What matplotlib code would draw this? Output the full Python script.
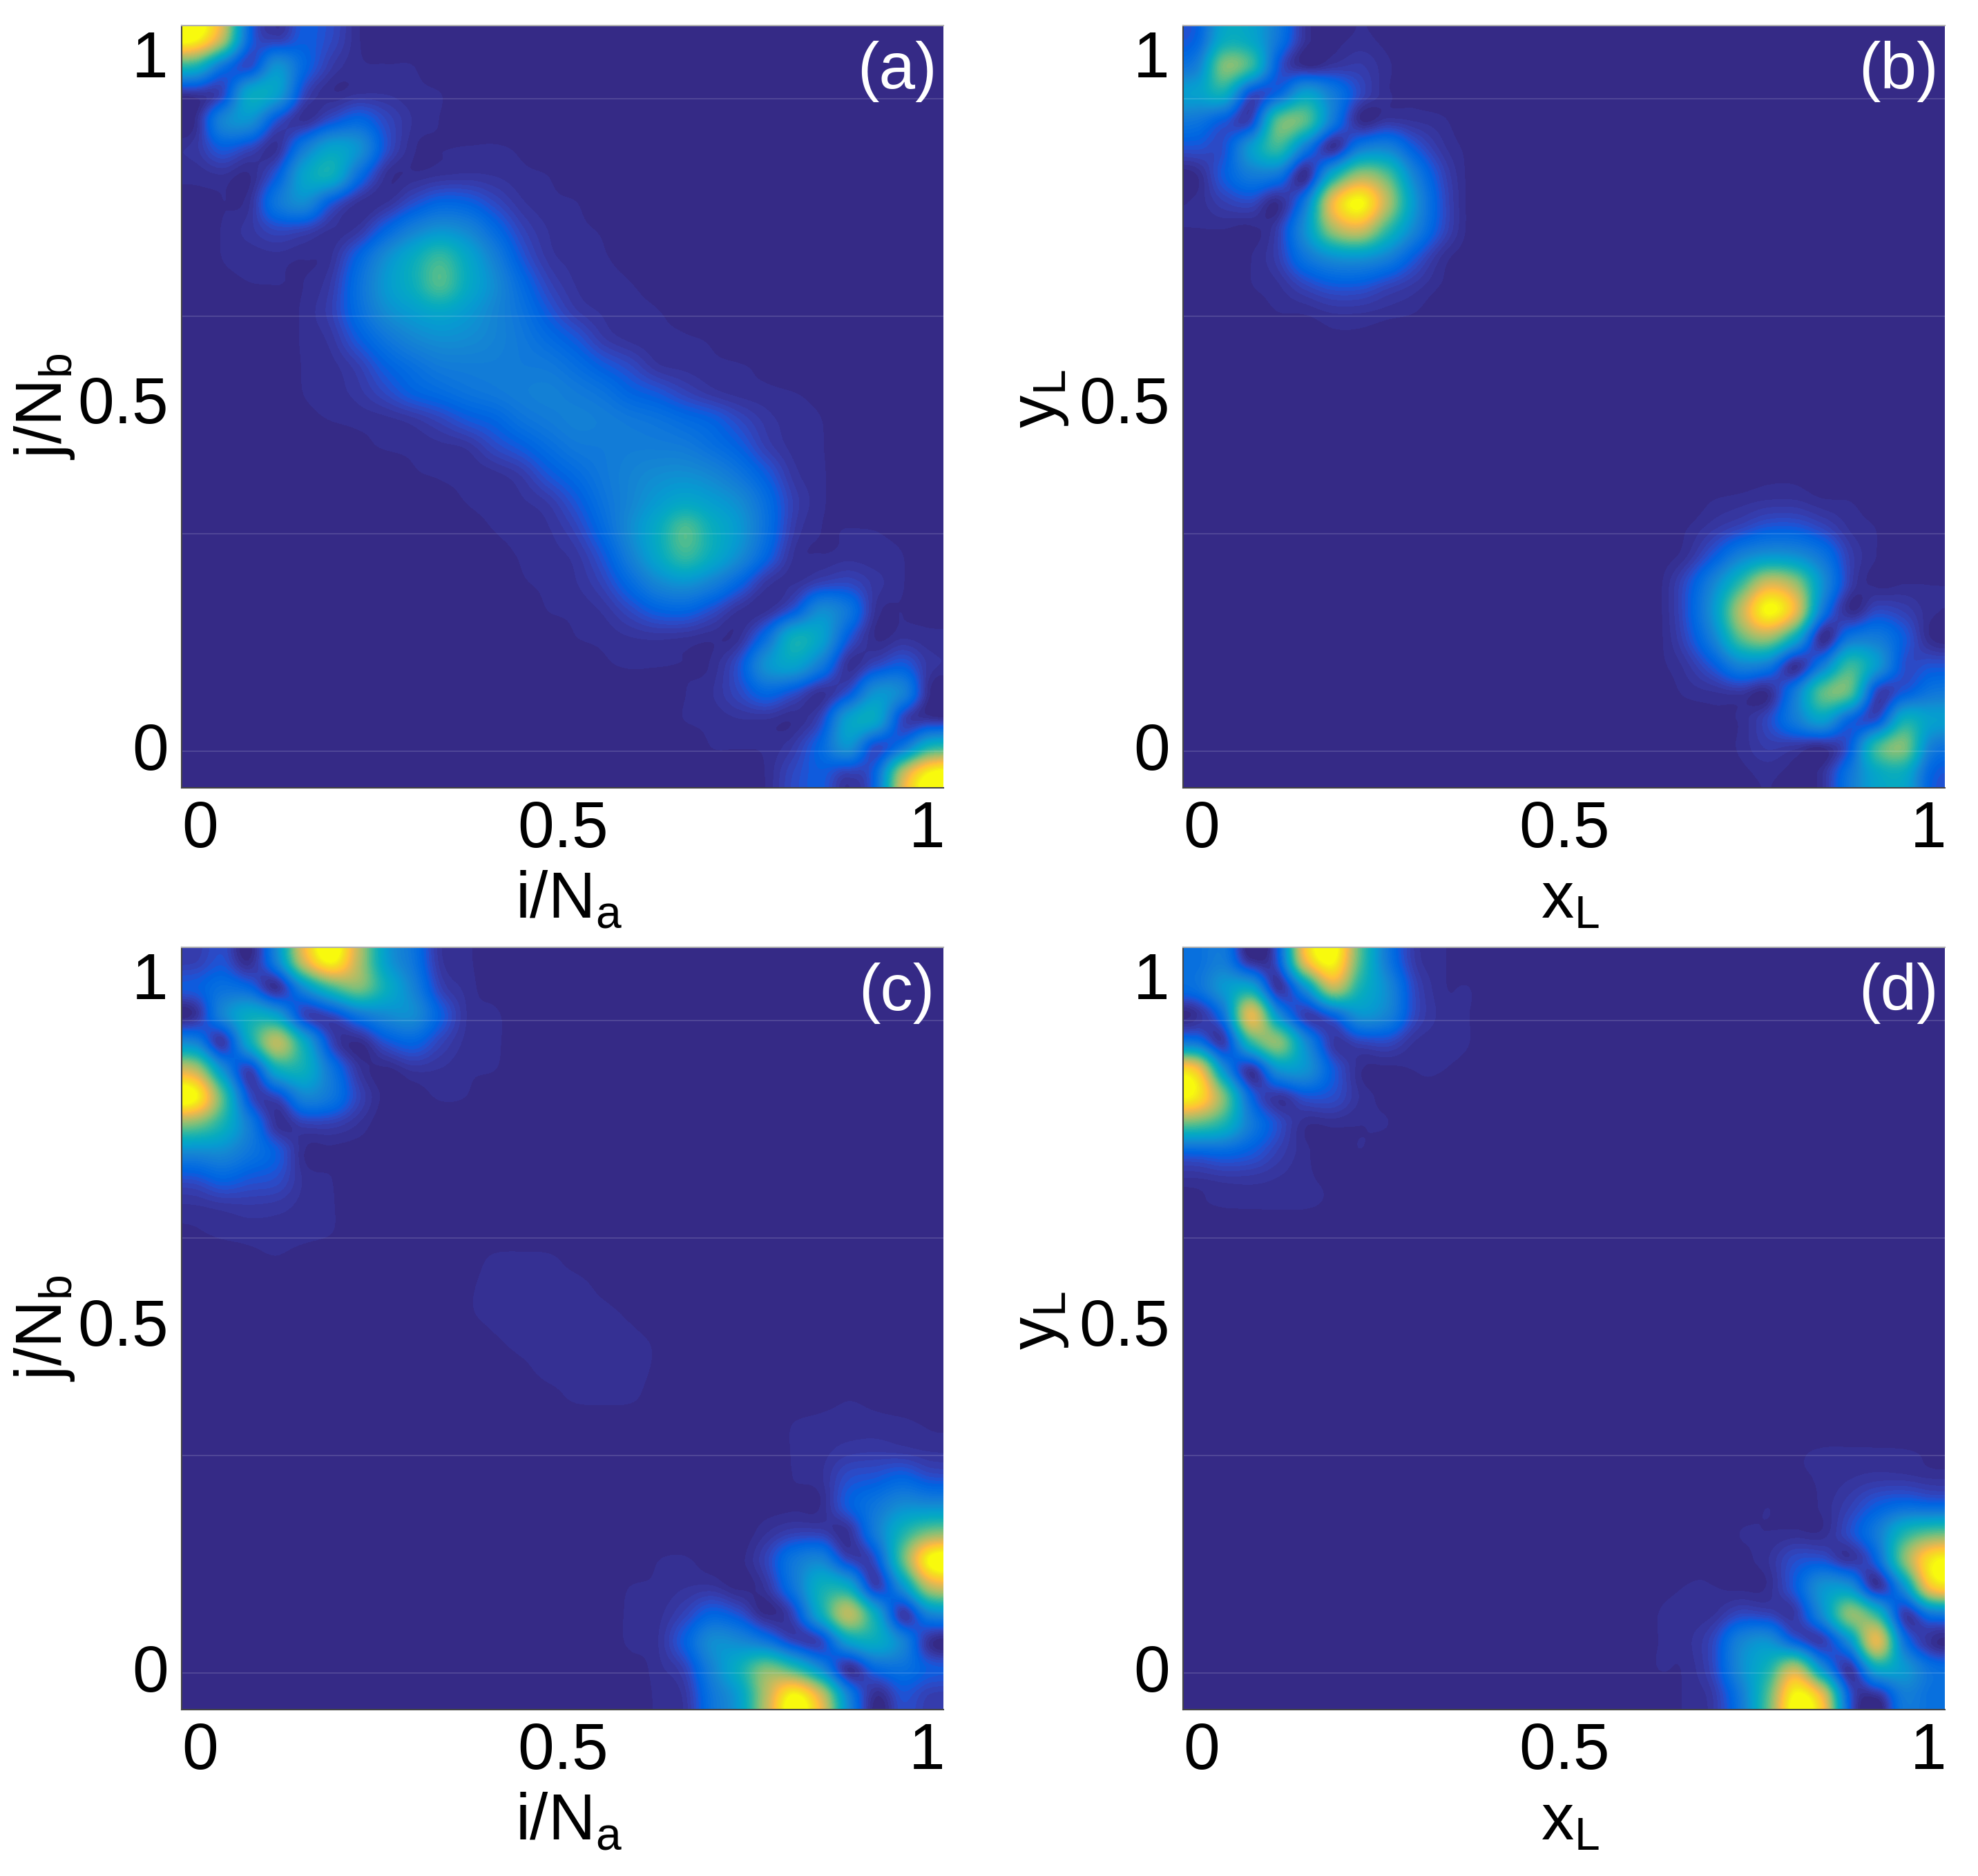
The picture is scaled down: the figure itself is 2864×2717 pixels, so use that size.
import numpy as np
import matplotlib
matplotlib.use("Agg")
import matplotlib.pyplot as plt
from matplotlib.colors import ListedColormap

plt.rcParams['font.family'] = ['Liberation Sans', 'DejaVu Sans']
plt.rcParams['mathtext.fontset'] = 'custom'
plt.rcParams['mathtext.rm'] = 'Liberation Sans'
plt.rcParams['mathtext.default'] = 'rm'

# Intensities in percent of each panel's peak, read by eye on a 28 x 28 grid
# over the panel. Only the top 14 rows are listed: the panels are point
# symmetric, so the lower half is the upper half turned by 180 degrees.
panel_a = [
    [100, 70, 15, 6, 12, 8, 1.8],
    [45, 20, 9, 30, 15, 5, 2, 1.7, 1.6],
    [4, 8, 38, 35, 8, 2, 3, 3, 2, 1.6],
    [1.8, 25, 30, 10, 3, 10, 15, 8, 3, 1.5],
    [4, 12, 8, 3, 22, 36, 30, 10, 2, 1.5, 1.7, 1.8, 1.2],
    [2, 3, 1.5, 12, 36, 42, 18, 3, 2, 3, 3.5, 3, 2, 1.5],
    [1, 1.5, 3, 20, 28, 12, 3, 3, 9, 14, 13, 8, 3.5, 2, 1.6],
    [0, 1.7, 4, 8, 7, 3, 4, 14, 24, 30, 26, 16, 7, 3, 2, 1.3],
    [0, 1.6, 2, 2.5, 1.8, 3, 14, 28, 40, 50, 38, 24, 11, 4, 2.5, 1.7, 1],
    [0, 1, 1.5, 1.6, 1.6, 5, 18, 32, 42, 54, 40, 28, 16, 7, 3, 2, 1.6, 1],
    [0, 0, 0, 0.5, 2, 6, 17, 28, 34, 38, 33, 26, 19, 11, 5, 2.8, 1.9, 1.6, 1],
    [0, 0, 0, 0.3, 1.9, 4, 12, 20, 26, 29, 28, 25, 21, 16, 11, 5, 2.6, 1.9, 1.7, 1.3],
    [0, 0, 0, 0.2, 1.7, 2.5, 6, 13, 18, 22, 23, 23, 22, 21, 17, 12, 8, 3.5, 2.5, 2, 1.7, 1],
    [0, 0, 0, 0.3, 1.6, 2.2, 4, 8, 13, 16, 19, 21, 23, 24, 22, 19, 14, 11, 7, 4, 2.5, 2, 1.6, 1],
]
panel_b = [
    [14, 40, 38, 20, 3, 1, 2, 1],
    [24, 60, 50, 12, 2, 4, 5, 2],
    [35, 42, 10, 15, 35, 22, 8, 2, 1],
    [20, 12, 8, 55, 55, 22, 2, 4, 3, 2],
    [10, 10, 33, 50, 22, 3, 22, 25, 12, 4, 1],
    [1.5, 12, 22, 20, 2, 40, 65, 55, 25, 8, 1],
    [2, 6, 8, 2, 22, 80, 100, 70, 32, 10, 1],
    [1.5, 1.5, 1, 6, 30, 65, 75, 50, 26, 9, 1],
    [0, 0, 1.5, 6, 20, 30, 32, 25, 12, 3, 0.5],
    [0, 0, 1.5, 3, 8, 12, 12, 8, 4.5, 1.5],
    [0, 0, 0.5, 1.6, 2, 3.5, 3.5, 2.5, 1.7],
    [0, 0, 0, 0, 0.3, 1, 1, 0.5],
]
panel_c = [
    [6, 10, 2, 25, 75, 100, 70, 35, 20, 4, 2],
    [12, 18, 15, 3, 28, 50, 60, 42, 25, 7, 2.5, 0.5],
    [3, 25, 40, 35, 8, 8, 20, 27, 28, 13, 3, 2],
    [25, 5, 40, 70, 40, 8, 1.5, 10, 14, 7, 2.5, 2],
    [70, 30, 7, 40, 42, 20, 4, 1, 3.5, 3, 1.8, 1.6],
    [100, 55, 10, 8, 25, 20, 7, 0.8, 0.5, 1.8, 1.5],
    [60, 45, 22, 3, 6, 6, 3],
    [28, 28, 20, 12, 1.7, 1, 0.5],
    [10, 14, 11, 9, 2.8, 1.6],
    [3, 4, 4.5, 4, 2.5, 1.7, 0.5],
    [1.3, 2, 2.2, 2.2, 2, 1.6],
    [0, 0.3, 1, 1.4, 0.8, 0, 0, 0, 0, 0, 0.5, 2, 2.2, 2, 0.8],
    [0, 0, 0, 0, 0, 0, 0, 0, 0, 0, 1.2, 2.3, 2.4, 2.4, 2.3, 1],
    [0, 0, 0, 0, 0, 0, 0, 0, 0, 0, 1.2, 2.2, 2.5, 2.6, 2.5, 2.2, 1.2],
]
panel_d = [
    [18, 22, 3, 12, 80, 100, 55, 22, 5, 2],
    [18, 32, 38, 4, 30, 70, 45, 28, 8, 2, 1.6],
    [3, 20, 78, 30, 6, 14, 30, 25, 8, 2.5, 1.6],
    [20, 6, 48, 62, 28, 5, 7, 8, 3, 2, 1.6],
    [85, 30, 4, 30, 30, 12, 2, 1, 1.6, 1.6, 1],
    [95, 60, 15, 4, 10, 9, 3, 1, 1.2, 1],
    [55, 45, 22, 9, 2, 2, 1.6, 1.6],
    [15, 16, 12, 6, 2, 0.5, 1.5, 0.5],
    [3, 4, 4, 3, 1.8, 1.2],
    [1.2, 1.7, 1.8, 1.8, 1.7, 1.2],
]
panel_data = [panel_a, panel_b, panel_c, panel_d]
panel_tags = ['(a)', '(b)', '(c)', '(d)']
x_labels = [r'i/N$_{a}$', r'x$_{L}$', r'i/N$_{a}$', r'x$_{L}$']
y_labels = [r'j/N$_{b}$', r'y$_{L}$', r'j/N$_{b}$', r'y$_{L}$']
tick_values = [0, 0.5, 1]
tick_labels = ['0', '0.5', '1']
seam_fracs = [0.0476, 0.3333, 0.6190, 0.9040]  # faint tile seams in the picture

parula = ListedColormap([
    (0.2081,0.1663,0.5292),(0.2116,0.1898,0.5777),(0.2123,0.2138,0.6270),(0.2081,0.2386,0.6771),
    (0.1959,0.2645,0.7279),(0.1707,0.2919,0.7792),(0.1253,0.3242,0.8303),(0.0591,0.3598,0.8683),
    (0.0117,0.3875,0.8820),(0.0060,0.4086,0.8828),(0.0165,0.4266,0.8786),(0.0329,0.4430,0.8720),
    (0.0498,0.4586,0.8641),(0.0629,0.4737,0.8554),(0.0723,0.4887,0.8467),(0.0779,0.5040,0.8384),
    (0.0793,0.5200,0.8312),(0.0749,0.5375,0.8263),(0.0641,0.5570,0.8240),(0.0488,0.5772,0.8228),
    (0.0343,0.5966,0.8199),(0.0265,0.6137,0.8135),(0.0239,0.6287,0.8038),(0.0231,0.6418,0.7913),
    (0.0228,0.6535,0.7768),(0.0267,0.6642,0.7607),(0.0384,0.6743,0.7436),(0.0590,0.6838,0.7254),
    (0.0843,0.6928,0.7062),(0.1133,0.7015,0.6859),(0.1453,0.7098,0.6646),(0.1801,0.7177,0.6424),
    (0.2178,0.7250,0.6193),(0.2586,0.7317,0.5954),(0.3022,0.7376,0.5712),(0.3482,0.7424,0.5473),
    (0.3953,0.7459,0.5244),(0.4420,0.7481,0.5033),(0.4871,0.7491,0.4840),(0.5300,0.7491,0.4661),
    (0.5709,0.7485,0.4494),(0.6099,0.7473,0.4337),(0.6473,0.7456,0.4188),(0.6834,0.7435,0.4044),
    (0.7184,0.7411,0.3905),(0.7525,0.7384,0.3768),(0.7858,0.7356,0.3633),(0.8185,0.7327,0.3498),
    (0.8507,0.7299,0.3360),(0.8824,0.7274,0.3217),(0.9139,0.7258,0.3063),(0.9450,0.7261,0.2886),
    (0.9739,0.7314,0.2666),(0.9938,0.7455,0.2403),(0.9990,0.7653,0.2164),(0.9955,0.7861,0.1967),
    (0.9880,0.8066,0.1794),(0.9789,0.8271,0.1633),(0.9697,0.8481,0.1475),(0.9626,0.8705,0.1309),
    (0.9589,0.8949,0.1132),(0.9598,0.9218,0.0948),(0.9661,0.9514,0.0755),(0.9763,0.9831,0.0538),
])
parula.set_under((0.2081,0.1663,0.5292))
parula.set_over((0.9763,0.9831,0.0538))

GRID = 28
W, H = 2864, 2717
XLIM = (-0.025, 1.023)
YLIM = (-0.05, 1.05)
boxes = [(263, 37), (1713, 37), (263, 1372), (1713, 1372)]
BW, BH = 1103, 1104
FS = 68


def full_grid(rows):
    top = np.zeros((GRID // 2, GRID))
    for r, row in enumerate(rows):
        top[r, :len(row)] = row
    return np.vstack([top, top[::-1, ::-1]]) / 100.0


fig = plt.figure(figsize=(W / 100, H / 100), dpi=100, facecolor='white')
for n, (x0, y0) in enumerate(boxes):
    ax = fig.add_axes([x0 / W, 1 - (y0 + BH) / H, BW / W, BH / H])
    ax.imshow(full_grid(panel_data[n]), cmap=parula, vmin=0, vmax=1, origin='upper',
              extent=(XLIM[0], XLIM[1], YLIM[0], YLIM[1]), aspect='auto',
              interpolation='catrom', interpolation_stage='data')
    ax.set_xlim(*XLIM)
    ax.set_ylim(*YLIM)
    ax.set_xticks(tick_values, tick_labels)
    ax.set_yticks(tick_values, tick_labels)
    ax.tick_params(axis='x', length=0, pad=12, labelsize=FS)
    ax.tick_params(axis='y', length=0, pad=14, labelsize=FS)
    for t in ax.get_yticklabels():
        t.set_va('center')
    for f in seam_fracs:
        ax.axhline(YLIM[0] + f * (YLIM[1] - YLIM[0]), color='white', alpha=0.16, lw=1.2)
    ax.spines['right'].set_visible(False)
    ax.spines['top'].set_color('#b0b0b0')
    ax.spines['left'].set_color('#444444')
    ax.spines['bottom'].set_color('#444444')
    for s in ax.spines.values():
        s.set_linewidth(1.5)
    ax.set_xlabel(x_labels[n], fontsize=FS)
    ax.xaxis.set_label_coords(0.508, -0.108)
    ax.set_ylabel(y_labels[n], fontsize=FS)
    ax.yaxis.set_label_coords(-0.138 if n % 2 == 0 else -0.148, 0.51 if n % 2 else 0.50)
    ax.text(0.939, 0.94, panel_tags[n], transform=ax.transAxes, color='white',
            fontsize=FS, ha='center', va='center')
fig.savefig('out.png', dpi=100)
